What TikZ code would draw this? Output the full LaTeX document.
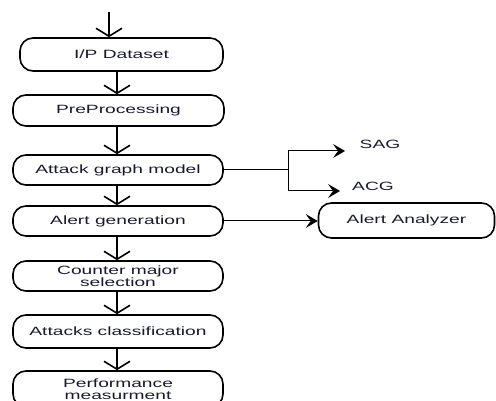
\documentclass[tikz,border=0pt]{standalone}
\usepackage{fontspec}
\setmainfont{Liberation Sans}[FakeStretch=1.6]
\usetikzlibrary{arrows.meta}
\definecolor{txt}{RGB}{25,25,45}
\begin{document}
\begin{tikzpicture}[x=1pt,y=-1pt,
  box/.style={draw, line width=1.6pt, rounded corners=13pt, minimum width=210pt,
    inner sep=0pt, align=center, font=\fontsize{12}{12.5}\selectfont, text=txt},
  lbl/.style={inner sep=0pt, font=\fontsize{12}{12.5}\selectfont, text=txt},
  varr/.style={line width=1.6pt, -{Straight Barb[length=8pt,width=26pt,line width=1.6pt]}},
  harr/.style={line width=1pt, -{Stealth[length=12pt,width=14pt,inset=5pt]}},
  hline/.style={line width=1pt}]
\useasboundingbox (0,0) rectangle (496,401);
\node[box, minimum width=203pt, minimum height=33pt] (b1) at (121.5,54.5) {I/P Dataset};
\node[box, minimum width=211pt, minimum height=31pt] (b2) at (118.5,110.5) {PreProcessing};
\node[box, minimum height=30pt] (b3) at (118,170) {Attack graph model};
\node[box, minimum height=30pt] (b4) at (118,221) {Alert generation};
\node[box, minimum height=30pt] (b5) at (118,276) {Counter major\\selection};
\node[box, minimum height=33pt] (b6) at (118,331.5) {Attacks classification};
\node[box, minimum height=36pt] (b7) at (118,389) {Performance\\measurment};
\node[box, minimum width=176pt, minimum height=35pt] (an) at (406.5,220.5) {Alert Analyzer};
\node[lbl] (sag) at (380,144) {SAG};
\node[lbl] (acg) at (373,186) {ACG};
% vertical flow
\coordinate (top) at (109,12);
\draw[varr] (top) -- (top |- b1.north);
\draw[varr] (b1.south -| 117,0) -- (b2.north -| 117,0);
\draw[varr] (b2.south -| 117,0) -- (b3.north -| 117,0);
\draw[varr] (b3.south -| 117,0) -- (b4.north -| 117,0);
\draw[varr] (b4.south -| 117,0) -- (b5.north -| 117,0);
\draw[varr] (b5.south -| 117,0) -- (b6.north -| 117,0);
\draw[varr] (b6.south -| 117,0) -- (b7.north -| 117,0);
% attack graph branches
\coordinate (j) at (288,170);
\coordinate (j1) at (288,151);
\coordinate (j2) at (288,191);
\coordinate (sagend) at (345,151);
\coordinate (acgend) at (340,191);
\draw[hline] (b3.east) -- (j);
\draw[hline] (j1) -- (j2);
\draw[harr] (j1) -- (sagend);
\draw[harr] (j2) -- (acgend);
% alert
\draw[harr] (b4.east) -- (b4.east -| an.west);
\end{tikzpicture}
\end{document}
